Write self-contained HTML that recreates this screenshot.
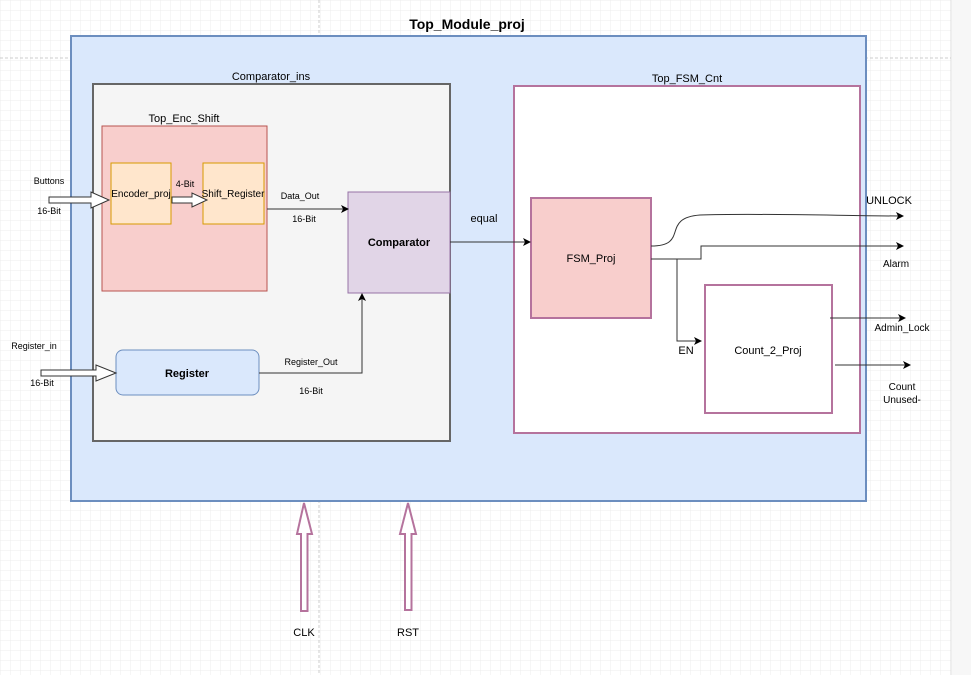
<!DOCTYPE html>
<html><head><meta charset="utf-8"><style>
body{margin:0;width:971px;height:675px;overflow:hidden;background:#fff;font-family:"Liberation Sans",Arial,sans-serif}
</style></head><body>
<svg width="971" height="675" xmlns="http://www.w3.org/2000/svg" font-family="Liberation Sans, Arial, sans-serif">
<defs>
<pattern id="g" width="10" height="10" patternUnits="userSpaceOnUse" x="1" y="1"><path d="M10 0V10M0 10H10" stroke="#ececec" stroke-width="1" fill="none"/></pattern>
<marker id="a" markerWidth="8" markerHeight="8" refX="7" refY="4" orient="auto" markerUnits="userSpaceOnUse"><path d="M0 0L8 4L0 8L2 4Z" fill="#000"/></marker>
</defs>
<rect width="951" height="675" fill="url(#g)"/>
<rect x="952" width="19" height="675" fill="#f7f7f7"/>
<line x1="951" y1="0" x2="951" y2="675" stroke="#ddd"/>
<line x1="0" y1="58" x2="951" y2="58" stroke="#ccc" stroke-dasharray="3,2"/>
<line x1="319" y1="0" x2="319" y2="675" stroke="#ccc" stroke-dasharray="3,2"/>

<text x="467" y="29" font-size="14" font-weight="bold" text-anchor="middle">Top_Module_proj</text>
<rect x="71" y="36" width="795" height="465" fill="#dae8fc" stroke="#6c8ebf" stroke-width="2"/>

<text x="271" y="80" font-size="11" text-anchor="middle">Comparator_ins</text>
<rect x="93" y="84" width="357" height="357" fill="#f5f5f5" stroke="#666" stroke-width="2"/>

<text x="184" y="122" font-size="11" text-anchor="middle">Top_Enc_Shift</text>
<rect x="102" y="126" width="165" height="165" fill="#f8cecc" stroke="#b85450"/>
<rect x="111" y="163" width="60" height="61" fill="#ffe6cc" stroke="#d79b00"/>
<text x="141" y="197" font-size="10" text-anchor="middle">Encoder_proj</text>
<rect x="203" y="163" width="61" height="61" fill="#ffe6cc" stroke="#d79b00"/>
<text x="233" y="197" font-size="10" text-anchor="middle">Shift_Register</text>
<text x="185" y="187" font-size="9" text-anchor="middle">4-Bit</text>
<path d="M172 197h20v-4l15 7l-15 7v-4h-20z" fill="#fff" stroke="#333"/>

<rect x="348" y="192" width="102" height="101" fill="#e1d5e7" stroke="#9673a6"/>
<text x="399" y="246" font-size="11" font-weight="bold" text-anchor="middle">Comparator</text>
<line x1="267" y1="209" x2="348" y2="209" stroke="#333" marker-end="url(#a)"/>
<text x="300" y="199" font-size="9" text-anchor="middle">Data_Out</text>
<text x="304" y="222" font-size="9" text-anchor="middle">16-Bit</text>

<rect x="116" y="350" width="143" height="45" rx="7" fill="#dae8fc" stroke="#6c8ebf"/>
<text x="187" y="377" font-size="11" font-weight="bold" text-anchor="middle">Register</text>
<path d="M259 373H362V294" fill="none" stroke="#333" marker-end="url(#a)"/>
<text x="311" y="365" font-size="9" text-anchor="middle">Register_Out</text>
<text x="311" y="394" font-size="9" text-anchor="middle">16-Bit</text>

<text x="49" y="184" font-size="9" text-anchor="middle">Buttons</text>
<text x="49" y="214" font-size="9" text-anchor="middle">16-Bit</text>
<path d="M49 197h42v-5l18 8l-18 8v-5h-42z" fill="#fff" stroke="#333"/>
<text x="34" y="349" font-size="9" text-anchor="middle">Register_in</text>
<text x="42" y="386" font-size="9" text-anchor="middle">16-Bit</text>
<path d="M41 370h55v-5l20 8l-20 8v-5h-55z" fill="#fff" stroke="#333"/>

<text x="687" y="82" font-size="11" text-anchor="middle">Top_FSM_Cnt</text>
<rect x="514" y="86" width="346" height="347" fill="#fff" stroke="#b5739d" stroke-width="2"/>
<rect x="531" y="198" width="120" height="120" fill="#f8cecc" stroke="#b5739d" stroke-width="2"/>
<text x="591" y="262" font-size="11" text-anchor="middle">FSM_Proj</text>
<line x1="450" y1="242" x2="530" y2="242" stroke="#333" marker-end="url(#a)"/>
<text x="484" y="222" font-size="11" text-anchor="middle">equal</text>

<rect x="705" y="285" width="127" height="128" fill="#fff" stroke="#b5739d" stroke-width="2"/>
<text x="768" y="354" font-size="11" text-anchor="middle">Count_2_Proj</text>

<path d="M651 246C690 246 660 218 700 215C760 213 850 216 903 216" fill="none" stroke="#333" marker-end="url(#a)"/>
<path d="M651 259H701V246H903" fill="none" stroke="#333" marker-end="url(#a)"/>
<path d="M677 259V341H701" fill="none" stroke="#333" marker-end="url(#a)"/>
<text x="686" y="354" font-size="11" text-anchor="middle">EN</text>
<line x1="830" y1="318" x2="905" y2="318" stroke="#333" marker-end="url(#a)"/>
<line x1="835" y1="365" x2="910" y2="365" stroke="#333" marker-end="url(#a)"/>
<text x="889" y="204" font-size="11" text-anchor="middle">UNLOCK</text>
<text x="896" y="267" font-size="10" text-anchor="middle">Alarm</text>
<text x="902" y="331" font-size="10" text-anchor="middle">Admin_Lock</text>
<text x="902" y="390" font-size="10" text-anchor="middle">Count</text>
<text x="902" y="403" font-size="10" text-anchor="middle">Unused-</text>

<path d="M304 503L312 534H307.5V611H301V534H297Z" fill="#fff" stroke="#b5739d" stroke-width="2"/>
<path d="M408 503L416 534H411.5V610H405V534H400Z" fill="#fff" stroke="#b5739d" stroke-width="2"/>
<text x="304" y="636" font-size="11" text-anchor="middle">CLK</text>
<text x="408" y="636" font-size="11" text-anchor="middle">RST</text>
</svg>
</body></html>
